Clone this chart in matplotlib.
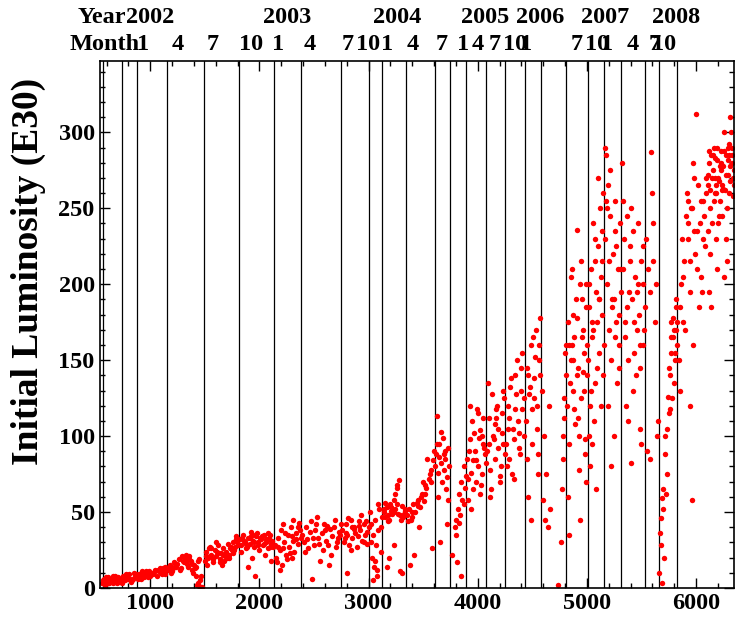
import numpy as np
import matplotlib
matplotlib.use('Agg')
import matplotlib.pyplot as plt
import matplotlib.transforms as mtransforms
from matplotlib.ticker import MultipleLocator

# store number / initial luminosity (E30) in chunks
store_a = [560, 575, 590, 600, 615, 630, 645, 660, 675, 690, 705, 720, 735, 750, 770, 790, 805, 820,
           840, 860, 880, 900, 915, 930, 950, 965, 980, 1000, 1020, 1040, 1060, 1080, 1100, 1120, 1140,
           580, 610, 640, 670, 700, 730, 760, 800, 830, 870, 910, 940, 990, 1030, 1070, 1110, 1135,
           1160, 1180, 1200, 1220, 1240, 1260, 1280, 1300, 1320, 1340, 1360, 1380, 1400, 1420, 1440, 1460, 1475,
           1190, 1230, 1270, 1310, 1350, 1390, 1430, 1450, 1470, 1210, 1330, 1370, 1420, 1445]
lumi_a = [3, 6, 2, 5, 7, 4, 6, 3, 8, 5, 7, 4, 6, 8, 5, 7, 9, 4,
          6, 8, 7, 9, 6, 10, 8, 11, 7, 9, 10, 12, 8, 11, 10, 13, 9,
          4, 3, 5, 7, 3, 6, 7, 6, 5, 9, 8, 7, 11, 9, 12, 9, 14,
          12, 15, 11, 17, 14, 19, 13, 18, 20, 16, 21, 12, 15, 8, 3, 5, 0.5,
          10, 16, 12, 17, 14, 10, 2, 19, 8, 13, 22, 18, 14, 1]

store_b = [1500, 1515, 1530, 1545, 1560, 1575, 1590, 1605, 1620, 1635, 1650, 1665, 1680, 1695, 1710, 1725,
           1740, 1755, 1770, 1785, 1800, 1520, 1550, 1580, 1610, 1640, 1670, 1700, 1730, 1760, 1790,
           1540, 1600, 1660, 1720, 1780,
           1820, 1835, 1850, 1865, 1880, 1895, 1910, 1925, 1940, 1955, 1970, 1985, 2000, 2015, 2030, 2045,
           2060, 2075, 2090, 2105, 2120, 1830, 1860, 1890, 1920, 1950, 1980, 2010, 2040, 2070, 2100,
           1900, 1960, 2050, 2110, 1930, 2080,
           2140, 2155, 2170, 2185, 2200, 2215, 2230, 2245, 2260, 2275, 2290, 2305, 2320, 2335, 2350, 2365,
           2380, 2160, 2190, 2220, 2250, 2280, 2310, 2340, 2370, 2210, 2300]
lumi_b = [18, 24, 20, 27, 22, 17, 25, 21, 28, 19, 23, 26, 18, 24, 29, 22,
          27, 30, 25, 32, 28, 15, 21, 19, 24, 17, 22, 20, 26, 23, 34,
          26, 30, 15, 20, 27,
          32, 28, 35, 30, 26, 33, 29, 37, 31, 27, 34, 30, 25, 32, 28, 35,
          30, 26, 33, 29, 31, 24, 31, 27, 34, 30, 36, 33, 29, 31, 27,
          14, 8, 22, 18, 20, 36,
          28, 20, 33, 25, 38, 42, 30, 22, 35, 27, 40, 31, 24, 36, 29, 43,
          33, 17, 12, 26, 19, 23, 45, 32, 38, 15, 20]

store_c = [2390, 2410, 2430, 2450, 2470, 2490, 2510, 2530, 2550, 2570, 2590, 2610, 2630, 2650, 2670, 2690,
           2710, 2730, 2745, 2420, 2460, 2500, 2540, 2580, 2620, 2660, 2700, 2740, 2480, 2560, 2640,
           2760, 2775, 2790, 2805, 2820, 2835, 2850, 2865, 2880, 2895, 2910, 2925, 2940, 2955, 2970, 2985,
           3000, 2780, 2810, 2840, 2870, 2900, 2930, 2960, 2990, 2800,
           3010, 3020, 3030, 3040, 3050, 3060, 3070, 3080, 3090, 3100, 3110, 3120, 3025, 3055, 3085, 3115,
           3045, 3075,
           3140, 3155, 3170, 3185, 3200, 3215, 3230, 3245, 3260, 3275, 3290, 3305, 3320, 3335,
           3150, 3180, 3210, 3240, 3270, 3300, 3330, 3190, 3230, 3260, 3290, 3165, 3310]
lumi_c = [35, 30, 40, 26, 44, 33, 38, 47, 29, 36, 42, 31, 28, 39, 34, 45,
          30, 37, 42, 24, 37, 28, 33, 25, 41, 22, 27, 35, 6, 18, 15,
          38, 30, 42, 35, 28, 45, 33, 40, 36, 27, 44, 38, 31, 42, 35, 29,
          40, 33, 46, 25, 39, 34, 48, 30, 37, 10,
          50, 42, 20, 35, 14, 45, 28, 8, 38, 52, 24, 47, 30, 18, 55, 40,
          5, 12,
          50, 47, 53, 45, 55, 49, 58, 52, 66, 71, 48, 54, 47, 51,
          56, 44, 51, 62, 49, 45, 52, 20, 28, 68, 11, 14, 10]

store_d = [3350, 3370, 3390, 3410, 3430, 3450, 3470, 3490, 3510, 3530, 3550, 3570, 3590, 3605,
           3360, 3400, 3440, 3480, 3520, 3560, 3600, 3380, 3460, 3540, 3580, 3420, 3500,
           3620, 3630, 3640, 3650, 3660, 3670, 3680, 3690, 3700, 3710, 3720, 3730, 3740,
           3635, 3665, 3695, 3725, 3655, 3715,
           3760, 3790, 3800, 3820, 3830, 3840, 3850, 3860, 3870, 3880, 3890, 3810, 3845, 3875, 3805, 3825,
           3900, 3915, 3930, 3945, 3960, 3975, 3990, 4005, 4020, 4035, 4050, 4065,
           3910, 3940, 3970, 4000, 4030, 4060, 3925, 3955, 3985, 4015, 4045, 4075, 3935, 4025,
           4085, 4100, 4115, 4130, 4145, 4160, 4175, 4190, 4205, 4220, 4235, 4250,
           4095, 4125, 4155, 4185, 4215, 4245, 4110, 4140, 4170, 4200, 4230]
lumi_d = [48, 52, 45, 55, 50, 58, 53, 62, 57, 66, 72, 78, 84, 80,
          44, 47, 56, 60, 68, 75, 90, 15, 40, 85, 26, 22, 70,
          88, 113, 76, 95, 82, 70, 99, 78, 85, 65, 73, 92, 80,
          60, 103, 88, 58, 30, 42,
          22, 40, 45, 52, 62, 48, 70, 58, 80, 66, 74, 17, 8, 55, 35, 43,
          85, 72, 98, 110, 65, 90, 118, 80, 104, 75, 95, 88,
          58, 76, 102, 115, 68, 92, 120, 84, 70, 99, 112, 82, 52, 62,
          90, 112, 78, 128, 98, 85, 120, 105, 70, 115, 95, 88,
          135, 65, 108, 92, 80, 125, 60, 100, 118, 74, 130]

store_e = [4260, 4275, 4290, 4305, 4320, 4335, 4350, 4365, 4380, 4395, 4410, 4425,
           4270, 4300, 4330, 4360, 4390, 4420, 4285, 4315, 4345, 4375, 4405,
           4440, 4455, 4470, 4485, 4500, 4515, 4530, 4545, 4560, 4575,
           4450, 4480, 4510, 4540, 4570, 4465, 4495, 4525, 4555, 4490, 4550,
           4590, 4600, 4610, 4620, 4630, 4640, 4650, 4660, 4740, 4765, 4770, 4780, 4790, 4800, 4810,
           4785, 4795, 4805,
           4820, 4830, 4840, 4850, 4860, 4870, 4880, 4890, 4900, 4910, 4920, 4930, 4940, 4950, 4960,
           4970, 4980, 4990, 5000, 4825, 4845, 4865, 4885, 4905, 4925, 4945, 4965, 4985, 5005,
           4835, 4875, 4915, 4955, 4995, 4855, 4935, 4975]
lumi_e = [95, 120, 85, 138, 105, 72, 128, 110, 92, 145, 118, 100,
          80, 132, 98, 150, 88, 125, 112, 75, 140, 102, 155,
          110, 145, 128, 160, 95, 138, 170, 120, 150, 178,
          85, 132, 165, 105, 140, 60, 118, 152, 88, 45, 75,
          130, 58, 100, 45, 75, 40, 120, 52, 2, 30, 65, 100, 125, 155, 140,
          85, 112, 160,
          120, 175, 95, 150, 210, 130, 165, 108, 190, 236, 145, 78, 200, 125, 170,
          155, 98, 185, 140, 60, 135, 160, 118, 178, 100, 215, 142, 88, 160,
          35, 150, 112, 190, 70, 205, 45, 130]

store_f = [5010, 5020, 5030, 5040, 5050, 5060, 5070, 5080, 5090, 5100, 5110, 5120, 5130, 5140, 5150,
           5015, 5035, 5055, 5075, 5095, 5115, 5135, 5155, 5025, 5065, 5105, 5145, 5045, 5085, 5125,
           5165, 5175, 5185, 5195, 5205, 5215, 5225, 5235, 5245, 5255, 5265, 5275, 5285, 5295, 5305,
           5170, 5190, 5210, 5230, 5250, 5270, 5290, 5310, 5180, 5220, 5260, 5300,
           5320, 5335, 5350, 5365, 5380, 5395, 5410, 5425, 5440, 5455, 5470, 5485, 5500, 5515, 5530,
           5330, 5360, 5390, 5420, 5450, 5480, 5510, 5345, 5375, 5405, 5435, 5465, 5495, 5525, 5400, 5490,
           5545, 5560, 5575, 5590, 5600, 5610, 5620, 5640, 5555, 5580, 5605, 5630, 5650]
lumi_f = [150, 185, 120, 210, 165, 240, 135, 195, 175, 225, 155, 250, 205, 180, 260,
          100, 130, 170, 215, 145, 190, 235, 160, 80, 110, 270, 140, 95, 65, 120,
          230, 285, 200, 265, 170, 245, 150, 220, 190, 255, 175, 135, 210, 160, 240,
          290, 120, 275, 185, 100, 225, 145, 195, 250, 80, 165, 210,
          280, 210, 175, 245, 150, 225, 190, 130, 205, 170, 240, 145, 215, 160, 185,
          255, 120, 195, 235, 140, 180, 225, 165, 110, 250, 155, 200, 95, 170, 82, 105,
          230, 210, 195, 287, 260, 215, 175, 100, 90, 85, 240, 200, 110]

store_g = [5665, 5670, 5680, 5690, 5700, 5710, 5720, 5730, 5740, 5750, 5760, 5770, 5780, 5790, 5800,
           5810, 5820, 5828, 5675, 5695, 5715, 5735, 5755, 5775, 5795, 5815, 5685, 5725, 5765, 5805,
           5840, 5855, 5870, 5885, 5900, 5915, 5930, 5945, 5960, 5975, 5990, 6005, 6020, 6035, 6050,
           6065, 6080, 6095, 5850, 5880, 5910, 5940, 5970, 6000, 6030, 6060, 6090, 5945, 5925, 5985,
           6045, 5965,
           6105, 6115, 6125, 6135, 6145, 6155, 6165, 6175, 6185, 6195, 6205, 6215, 6225, 6235, 6245,
           6255, 6265, 6275, 6285, 6295, 6305, 6315, 6325, 6335, 6345,
           6110, 6130, 6150, 6170, 6190, 6210, 6230, 6250, 6270, 6290, 6310, 6330,
           6120, 6160, 6200, 6240, 6280, 6320, 6140, 6180, 6220, 6260, 6300, 6340]
lumi_g = [10, 36, 46, 59, 65, 20, 100, 75, 126, 115, 140, 155, 125, 165, 170,
          150, 185, 160, 28, 52, 88, 105, 145, 175, 135, 190, 3, 62, 118, 155,
          150, 185, 230, 205, 170, 260, 240, 195, 250, 280, 220, 210, 265, 240, 195,
          255, 225, 270, 130, 175, 245, 215, 160, 312, 185, 230, 260, 120, 255, 235,
          205, 58,
          265, 280, 250, 285, 240, 275, 290, 260, 230, 282, 270, 255, 288, 245, 278,
          300, 262, 285, 250, 272, 292, 268, 280, 258, 275,
          235, 220, 270, 283, 210, 245, 275, 263, 230, 290, 310, 285,
          195, 255, 240, 265, 215, 300, 185, 260, 278, 205, 285, 270]

# more stores in the dense parts of the cloud
store_h = [565, 595, 625, 655, 685, 715, 745, 780, 815, 850, 890, 925, 960, 995, 1045, 1090, 1125,
           1170, 1250, 1290, 1325, 1355, 1385, 1410, 1435,
           1510, 1560, 1625, 1685, 1745, 1795,
           1845, 1875, 1915, 1945, 1990, 2025, 2065, 2095, 2125,
           2175, 2235, 2295, 2355,
           2440, 2520, 2600, 2680, 2720,
           2790, 2850, 2915, 2975,
           3145, 3175, 3205, 3235, 3265, 3325,
           3395, 3455, 3515, 3575,
           3625, 3645, 3705,
           3920, 3980, 4040, 4105, 4165, 4225,
           4280, 4340, 4400, 4460, 4520, 4565,
           4832, 4872, 4912, 4952, 4992,
           5018, 5048, 5078, 5108, 5138, 5172, 5202, 5232, 5262, 5292,
           5338, 5368, 5398, 5428, 5458, 5488, 5518,
           5772, 5792, 5812, 5825,
           5862, 5892, 5922, 5952, 5982, 6012, 6042, 6072,
           6112, 6132, 6152, 6172, 6192, 6212, 6232, 6252, 6272, 6292, 6312, 6332, 6347,
           6122, 6182, 6242, 6302]
lumi_h = [5, 7, 3, 8, 4, 6, 3, 9, 6, 10, 6, 11, 9, 8, 11, 13, 11,
          14, 16, 21, 17, 19, 16, 13, 18,
          21, 26, 23, 21, 25, 30,
          33, 29, 33, 35, 28, 34, 32, 35, 27,
          27, 36, 34, 40,
          32, 42, 38, 40, 33,
          36, 40, 41, 44,
          52, 48, 53, 50, 55, 49,
          50, 54, 62, 70,
          95, 86, 90,
          90, 84, 100, 95, 112, 102,
          105, 118, 130, 140, 125, 160,
          160, 180, 140, 165, 200,
          200, 175, 230, 190, 215, 255, 215, 190, 235, 180,
          230, 185, 215, 175, 195, 160, 200,
          165, 178, 170, 175,
          200, 215, 230, 250, 270, 235, 255, 245,
          272, 262, 285, 270, 290, 268, 280, 288, 272, 282, 278, 290, 265,
          288, 265, 262, 260]

# vertical divider lines (store numbers)
divider_stores = [572, 746, 881, 1158, 1492, 1812, 2133, 2383, 2749, 3003, 3127, 3344, 3610, 3747,
                  3894, 4077, 4251, 4434, 4580, 4810, 5006, 5158, 5313, 5533, 5661, 5830]

# labels along the top
year_labels = ['2002', '2003', '2004', '2005', '2006', '2007', '2008']
year_stores = [1000, 2255, 3262, 4068, 4571, 5167, 5817]
month_labels = ['1', '4', '7', '10', '1', '4', '7', '10', '1', '4', '7',
                '1', '4', '7', '10', '1', '7', '10', '1', '4', '7', '10']
month_stores = [936, 1256, 1577, 1925, 2172, 2465, 2813, 2996, 3170, 3408, 3674,
                3866, 4004, 4159, 4342, 4443, 4910, 5093, 5185, 5423, 5625, 5707]

store = np.concatenate([store_a, store_b, store_c, store_d, store_e, store_f, store_g, store_h])
lumi = np.concatenate([lumi_a, lumi_b, lumi_c, lumi_d, lumi_e, lumi_f, lumi_g, lumi_h])

plt.rcParams['font.family'] = 'Liberation Serif'
plt.rcParams['font.weight'] = 'bold'

fig = plt.figure(figsize=(7.35, 6.22), dpi=100)
ax = fig.add_axes([0.1354, 0.0547, 0.8636, 0.8473])

for s in divider_stores:
    ax.axvline(s, color='black', lw=0.9, zorder=1)

ax.plot(store, lumi, 'o', color='red', ms=3.9, mec='none', zorder=2)

ax.set_xlim(536, 6350)
ax.set_ylim(0, 347)
ax.xaxis.set_major_locator(MultipleLocator(1000))
ax.xaxis.set_minor_locator(MultipleLocator(200))
ax.yaxis.set_major_locator(MultipleLocator(50))
ax.yaxis.set_minor_locator(MultipleLocator(10))
ax.tick_params(which='both', direction='in', top=True, right=True, width=1, labelsize=17.5)
ax.tick_params(which='major', length=7)
ax.tick_params(which='minor', length=3.5)
for sp in ax.spines.values():
    sp.set_linewidth(1.2)

ax.set_ylabel('Initial Luminosity (E30)', fontsize=27, fontweight='bold')
ax.yaxis.set_label_coords(-0.084, 0.60)

trans = mtransforms.blended_transform_factory(ax.transData, ax.transAxes)
ax.text(780, 1.0816, 'Year', transform=trans, ha='right', va='center', fontsize=17.5, clip_on=False)
ax.text(900, 1.0304, 'Month', transform=trans, ha='right', va='center', fontsize=17.5, clip_on=False)
for lab, s in zip(year_labels, year_stores):
    ax.text(s, 1.0816, lab, transform=trans, ha='center', va='center', fontsize=17.5, clip_on=False)
for lab, s in zip(month_labels, month_stores):
    ax.text(s, 1.0304, lab, transform=trans, ha='center', va='center', fontsize=17.5, clip_on=False)

plt.savefig('out.png', dpi=100)
